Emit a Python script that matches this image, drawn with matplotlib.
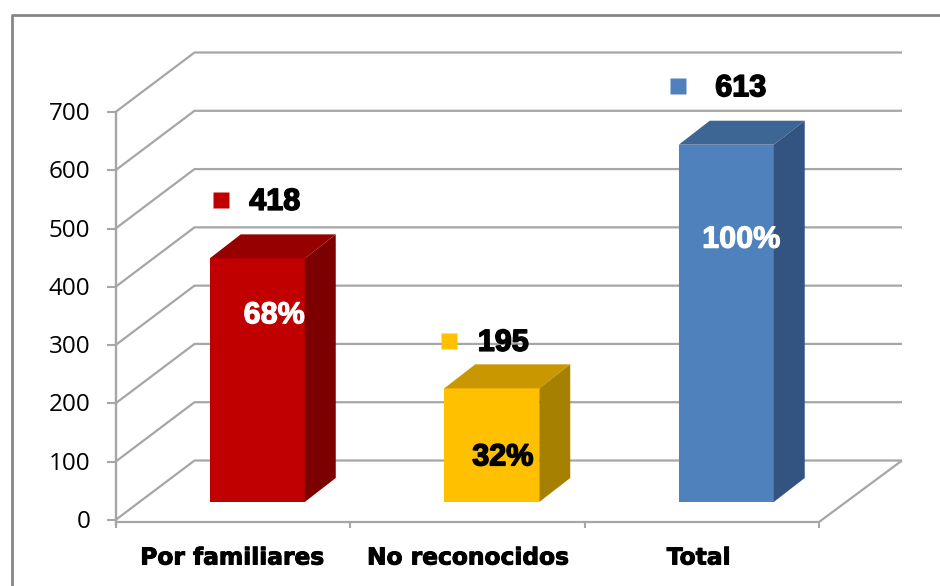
import matplotlib
matplotlib.use("Agg")
import matplotlib.pyplot as plt
import matplotlib.patheffects as pe
from matplotlib.patches import Polygon, Rectangle

categories = ["Por familiares", "No reconocidos", "Total"]
values = [418, 195, 613]
percents = ["68%", "32%", "100%"]
y_ticks = [0, 100, 200, 300, 400, 500, 600, 700]

front = ["#C00000", "#FFC000", "#4F81BD"]
top = ["#960000", "#C99700", "#3E6695"]
side = ["#7C0000", "#A68000", "#335480"]
pct_color = ["white", "black", "white"]

W, H = 940, 586
fig = plt.figure(figsize=(W / 100, H / 100), dpi=100, facecolor="white")
L, R, Y0, Y7 = 115.5, 819, 520, 112
ax = fig.add_axes([L / W, 1 - Y0 / H, (R - L) / W, (Y0 - Y7) / H])
ax.set_xlim(0, 3)
ax.set_ylim(0, 700)
ax.axis("off")

GRID = "#A6A6A6"
px_x = 3 / (R - L)          # data units per pixel
px_y = 700 / (Y0 - Y7)
DX, DY = 79 * px_x, 59.5 * px_y   # depth of the chart floor
EX = 4 * px_x                     # back wall runs slightly past the depth offset
BX, BY = 24.5 * px_x, 18 * px_y   # offset of a bar from the front plane
BW = 95 * px_x                    # bar width
CX, CY = 31 * px_x, 24 * px_y     # bar depth

kw = dict(color=GRID, lw=1.6, clip_on=False, solid_capstyle="butt", zorder=1)
for t in y_ticks:
    ax.plot([0, DX, 3 + DX + EX], [t, t + DY, t + DY], **kw)
    ax.plot([-8 * px_x, 0], [t, t], color=GRID, lw=1.5, clip_on=False, zorder=1)
ax.plot([0, 0], [-4 * px_y, 700], color=GRID, lw=1.7, clip_on=False, zorder=1)
ax.plot([0, 3, 3 + DX + EX], [-2 * px_y, -2 * px_y, DY], **kw)
for i in range(4):
    ax.plot([i, i], [-2 * px_y, -7 * px_y], color=GRID, lw=1.5, clip_on=False, zorder=1)

bold = dict(family="Liberation Sans", weight="bold", clip_on=False, zorder=5)
stroke_k = [pe.withStroke(linewidth=1.1, foreground="black")]
stroke_w = [pe.withStroke(linewidth=0.8, foreground="white")]

key_dx = [-36, -43, -48]
key_dy = [58, 47, 59]
num_dx = [-8, -14, -11]
num_dy = [1.5, 1.5, 2.5]
pct_pos = [(17, 57), (11, 69), (15, 95)]   # offset in px: from centre, down from top
cat_dx = [0, 1, -3]

for i, v in enumerate(values):
    c = i + 0.5 + BX
    x0, x1 = c - BW / 2, c + BW / 2
    b, t = BY, BY + v
    ax.add_patch(Rectangle((x0, b), BW, v, fc=front[i], ec="none", zorder=3, clip_on=False))
    ax.add_patch(Polygon([(x0, t), (x1, t), (x1 + CX, t + CY), (x0 + CX, t + CY)],
                         fc=top[i], ec="none", zorder=3, clip_on=False))
    ax.add_patch(Polygon([(x1, b), (x1 + CX, b + CY), (x1 + CX, t + CY), (x1, t)],
                         fc=side[i], ec="none", zorder=3, clip_on=False))
    # key square and value
    ky = t + key_dy[i] * px_y
    ax.plot([c + key_dx[i] * px_x], [ky], marker="s", ms=12.2, mfc=front[i], mec="none",
            clip_on=False, zorder=5)
    ax.text(c + num_dx[i] * px_x, ky - num_dy[i] * px_y, str(v), fontsize=22, ha="left", va="center",
            color="black", path_effects=stroke_k, **bold)
    # percentage
    ax.text(c + pct_pos[i][0] * px_x, t - pct_pos[i][1] * px_y, percents[i], fontsize=22,
            ha="center", va="center", color=pct_color[i],
            path_effects=stroke_w if pct_color[i] == "white" else stroke_k, **bold)
    # category
    ax.text(i + 0.5 + cat_dx[i] * px_x, -38 * px_y, categories[i], fontsize=16.8, family="DejaVu Sans",
            weight="bold", ha="center", va="center", color="black", clip_on=False, zorder=5,
            path_effects=[pe.withStroke(linewidth=0.7, foreground="black")])

for t in y_ticks:
    ax.text(-25 * px_x, t - 2 * px_y, str(t), fontsize=17.5, family="Open Sans", ha="right", va="center",
            color="black", clip_on=False)

# chart-area frame: left and top edges only
frame = "#868686"
fig.add_artist(plt.Line2D([11.5 / W, 11.5 / W, 1], [0, 1 - 15 / H, 1 - 15 / H], color=frame, lw=2))

fig.savefig("out.png", dpi=100, facecolor="white")
